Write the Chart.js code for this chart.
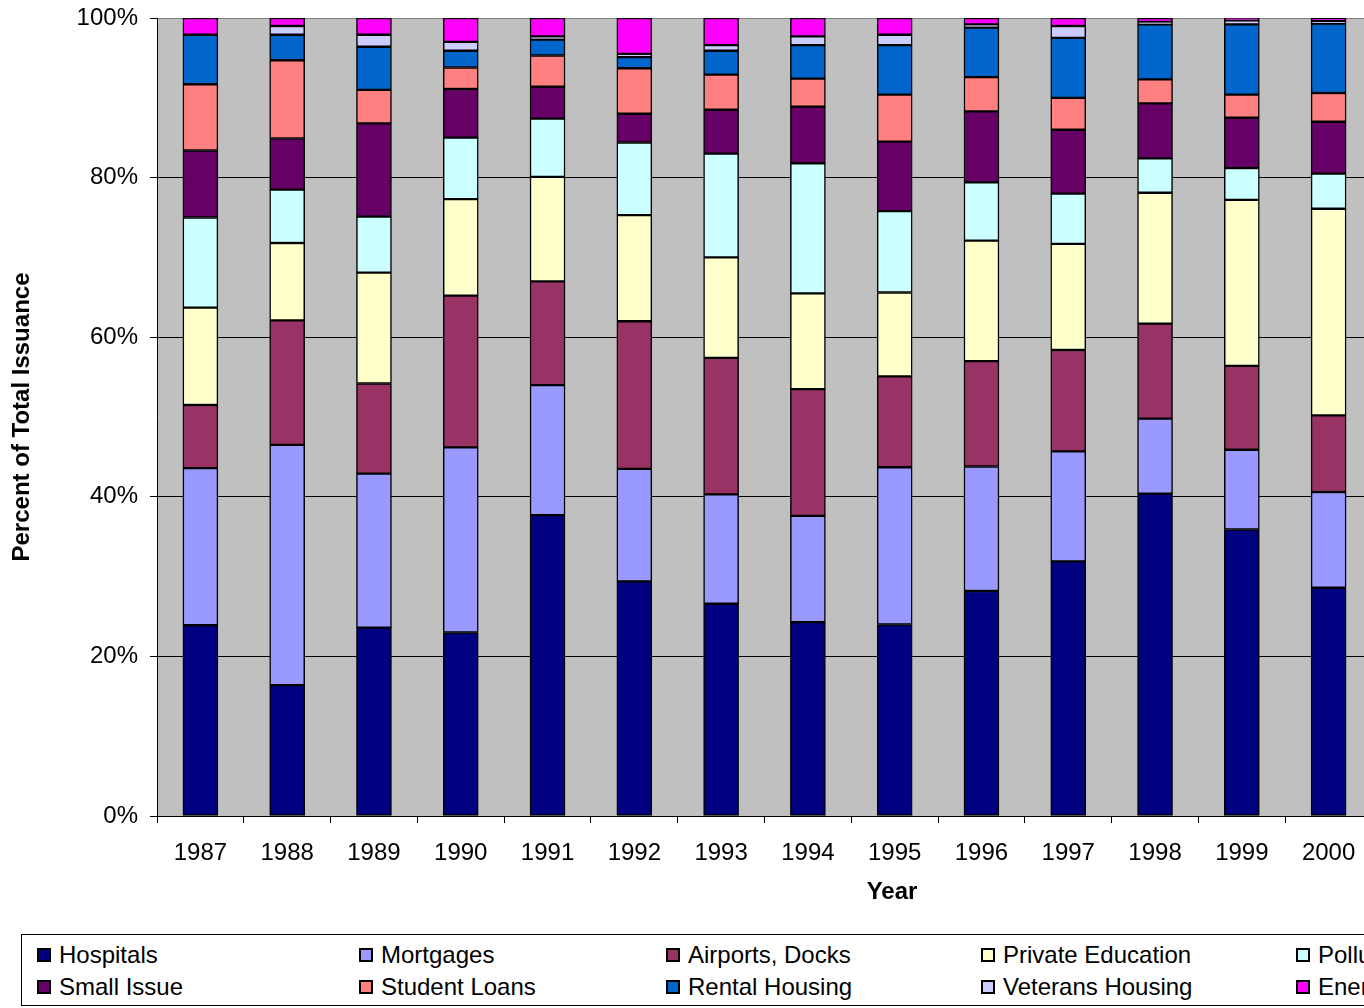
<!DOCTYPE html>
<html>
<head>
<meta charset="utf-8">
<script src="https://cdn.jsdelivr.net/npm/chart.js@4.4.0/dist/chart.umd.min.js"></script>
<style>
  html, body { margin: 0; padding: 0; background: #fff; width: 1364px; height: 1008px; overflow: hidden; }
  #wrap { position: absolute; left: 0; top: 0; width: 1400px; height: 930px; }
  #legend {
    position: absolute; left: 21px; top: 934px; width: 1900px; height: 72px;
    border: 1px solid #000; box-sizing: border-box; padding: 4px 0 0 15px;
    display: grid; grid-template-columns: 322px 307px 315px 315px 600px;
    grid-auto-rows: 32px;
    font-family: "Liberation Sans", Arial, sans-serif; font-size: 24px; color: #000;
  }
  .item { display: flex; align-items: center; white-space: nowrap; }
  .box { width: 10px; height: 10px; border: 2px solid #000; margin-right: 8px; }
</style>
</head>
<body>
<div id="wrap"><canvas id="chart" width="1400" height="930"></canvas></div>
<div id="legend"></div>
<script>
const years = ['1987', '1988', '1989', '1990', '1991', '1992', '1993', '1994', '1995', '1996', '1997', '1998', '1999', '2000'];

// percent of total issuance
const hospitals        = [23.9, 16.4, 23.6, 23.0, 37.7, 29.4, 26.6, 24.3, 24.0, 28.2, 31.9, 40.4, 35.9, 28.6];
const mortgages        = [19.7, 30.1, 19.3, 23.2, 16.3, 14.1, 13.7, 13.3, 19.7, 15.6, 13.8, 9.4, 10.0, 12.0];
const airportsDocks    = [7.9, 15.6, 11.3, 19.0, 13.0, 18.5, 17.1, 15.9, 11.4, 13.2, 12.7, 11.9, 10.5, 9.6];
const privateEducation = [12.2, 9.7, 13.9, 12.1, 13.1, 13.3, 12.6, 12.0, 10.5, 15.1, 13.3, 16.4, 20.8, 25.9];
const pollutionControl = [11.3, 6.7, 7.0, 7.7, 7.3, 9.1, 13.0, 16.3, 10.2, 7.3, 6.3, 4.3, 4.0, 4.4];
const smallIssue       = [8.4, 6.4, 11.7, 6.1, 4.0, 3.6, 5.5, 7.1, 8.7, 8.9, 8.0, 6.9, 6.3, 6.5];
const studentLoans     = [8.3, 9.8, 4.2, 2.7, 3.9, 5.7, 4.4, 3.5, 5.9, 4.3, 4.0, 3.0, 2.9, 3.6];
const rentalHousing    = [6.2, 3.2, 5.4, 2.1, 2.0, 1.4, 3.0, 4.2, 6.2, 6.2, 7.5, 6.9, 8.8, 8.7];
const veteransHousing  = [0, 1.1, 1.5, 1.1, 0.4, 0.4, 0.7, 1.1, 1.3, 0.4, 1.5, 0.3, 0.5, 0.3];
const energy           = [2.1, 1.0, 2.1, 3.0, 2.3, 4.5, 3.4, 2.3, 2.1, 0.8, 1.0, 0.5, 0.3, 0.4];

const yTicks = [0, 20, 40, 60, 80, 100];

const series = [
  { label: 'Hospitals', data: hospitals, color: '#000080' },
  { label: 'Mortgages', data: mortgages, color: '#9999FF' },
  { label: 'Airports, Docks', data: airportsDocks, color: '#993366' },
  { label: 'Private Education', data: privateEducation, color: '#FFFFCC' },
  { label: 'Pollution Control', data: pollutionControl, color: '#CCFFFF' },
  { label: 'Small Issue', data: smallIssue, color: '#660066' },
  { label: 'Student Loans', data: studentLoans, color: '#FF8080' },
  { label: 'Rental Housing', data: rentalHousing, color: '#0066CC' },
  { label: 'Veterans Housing', data: veteransHousing, color: '#CCCCFF' },
  { label: 'Energy', data: energy, color: '#FF00FF' }
];

// legend: two rows of five, same order as the stack
const legendEl = document.getElementById('legend');
series.forEach(s => {
  const item = document.createElement('div');
  item.className = 'item';
  item.innerHTML = '<span class="box" style="background:' + s.color + '"></span>' + s.label;
  legendEl.appendChild(item);
});

const FONT = '"Liberation Sans", Arial, sans-serif';
Chart.defaults.font.family = FONT;
Chart.defaults.font.size = 24;
Chart.defaults.color = '#000';

const plotBackground = {
  id: 'plotBackground',
  beforeDraw(chart) {
    const a = chart.chartArea;
    const ctx = chart.ctx;
    ctx.save();
    ctx.fillStyle = '#C0C0C0';
    ctx.fillRect(a.left, a.top, a.right - a.left, a.bottom - a.top);
    ctx.restore();
  },
  afterDraw(chart) {
    // x-axis title sits where the reference puts it
    const ctx = chart.ctx;
    ctx.save();
    ctx.font = 'bold 24px ' + FONT;
    ctx.fillStyle = '#000';
    ctx.textAlign = 'center';
    ctx.textBaseline = 'middle';
    ctx.fillText('Year', 892, 892);
    ctx.restore();
  }
};

new Chart(document.getElementById('chart').getContext('2d'), {
  type: 'bar',
  data: {
    labels: years,
    datasets: series.map(s => ({
      label: s.label,
      data: s.data,
      backgroundColor: s.color,
      borderColor: '#000',
      borderWidth: 1.5,
      borderSkipped: false,
      barThickness: 35
    }))
  },
  options: {
    responsive: false,
    animation: false,
    layout: { padding: { top: 18, right: 28, left: 0, bottom: 0 } },
    plugins: {
      legend: { display: false },
      tooltip: { enabled: false }
    },
    scales: {
      x: {
        stacked: true,
        afterFit(scale) { scale.height = 114; },
        grid: { offset: true, drawOnChartArea: false, color: '#000', tickLength: 7 },
        border: { color: '#000', width: 1 },
        ticks: { padding: 16, maxRotation: 0, autoSkip: false }
      },
      y: {
        stacked: true,
        min: 0,
        max: 100,
        afterFit(scale) {
          scale.width = 157;
          scale.paddingTop = 0;
          scale.paddingBottom = 0;
        },
        afterBuildTicks(scale) { scale.ticks = yTicks.map(v => ({ value: v })); },
        grid: {
          color: ctx => (ctx.tick && ctx.tick.value === 100) ? '#808080' : '#000',
          tickColor: '#000',
          tickLength: 7
        },
        border: { color: '#000', width: 1 },
        ticks: { padding: 12, callback: v => v + '%' },
        title: {
          display: true,
          text: 'Percent of Total Issuance',
          font: { weight: 'bold', size: 24 },
          padding: { top: 8, bottom: 4 }
        }
      }
    }
  },
  plugins: [plotBackground]
});
</script>
</body>
</html>
